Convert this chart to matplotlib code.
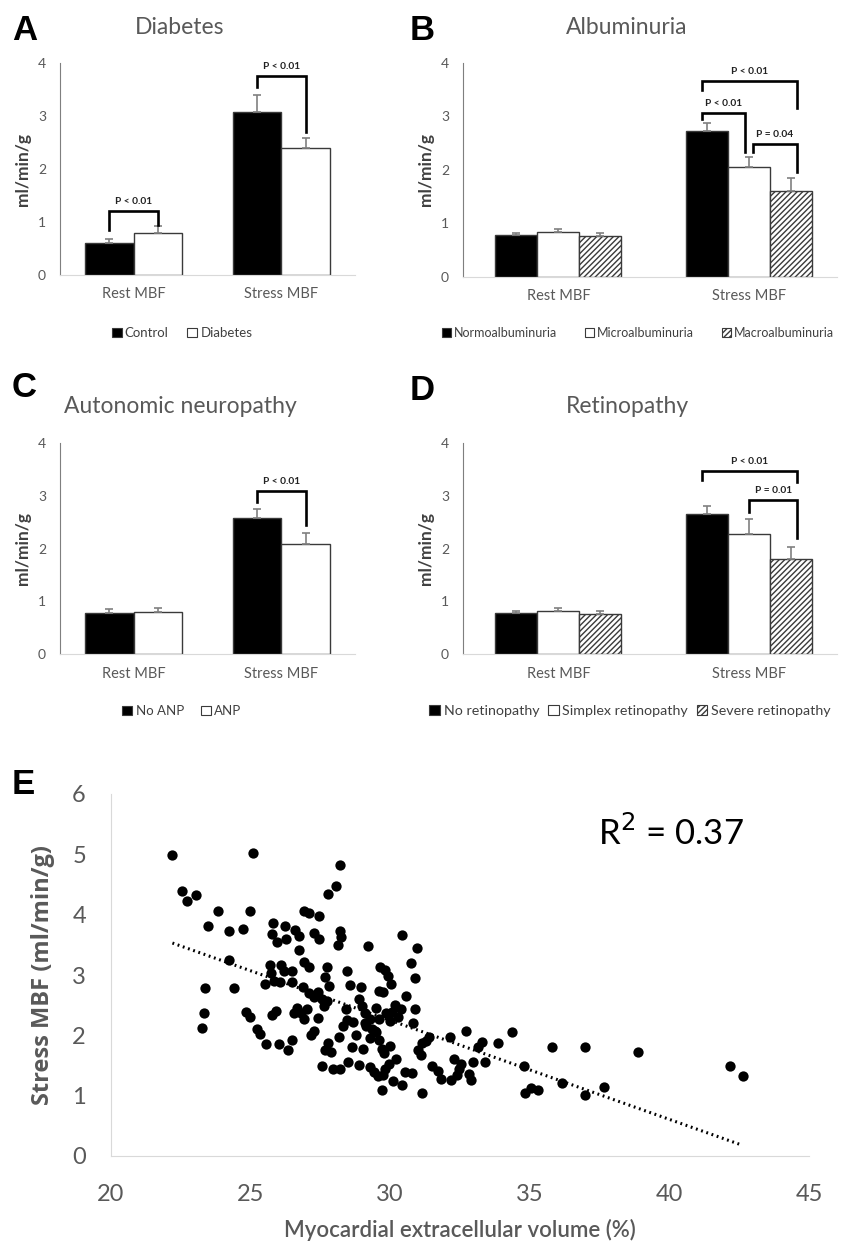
import matplotlib
matplotlib.use("Agg")
import matplotlib.pyplot as plt
from matplotlib.patches import Patch

plt.rcParams['font.family'] = ['Lato', 'DejaVu Sans']
plt.rcParams['hatch.linewidth'] = 1.0

W, H = 841, 1252

# ---------------- data ----------------
categories = ["Rest MBF", "Stress MBF"]

a_groups = ["Control", "Diabetes"]
a_vals = [[0.61, 3.08], [0.80, 2.40]]
a_err = [[0.06, 0.32], [0.12, 0.18]]

b_groups = ["Normoalbuminuria", "Microalbuminuria", "Macroalbuminuria"]
b_vals = [[0.78, 2.72], [0.84, 2.05], [0.76, 1.60]]
b_err = [[0.05, 0.15], [0.06, 0.20], [0.07, 0.25]]

c_groups = ["No ANP", "ANP"]
c_vals = [[0.78, 2.58], [0.80, 2.09]]
c_err = [[0.07, 0.16], [0.07, 0.20]]

d_groups = ["No retinopathy", "Simplex retinopathy", "Severe retinopathy"]
d_vals = [[0.78, 2.65], [0.82, 2.27], [0.76, 1.81]]
d_err = [[0.04, 0.15], [0.06, 0.29], [0.06, 0.22]]

ecv = [22.19, 25.07, 28.20, 28.05, 27.78, 22.54, 22.73, 23.06, 23.84, 24.99,
       26.92, 27.09, 27.44, 23.48, 24.23, 24.72, 25.80, 26.23, 25.75, 26.59,
       26.74, 27.28, 27.46, 25.94, 26.26, 28.20, 28.24, 28.13, 30.41, 29.20,
       30.97, 26.73, 24.23, 26.92, 27.09, 27.72, 25.69, 26.09, 30.76, 29.65,
       29.82, 29.93, 28.44, 25.73, 26.21, 26.50, 25.83, 26.07, 26.50, 25.50,
       30.90, 30.03, 28.55, 28.94, 27.67, 27.80, 26.88, 23.38, 24.40, 29.59,
       29.76, 27.09, 27.40, 30.55, 27.26, 27.55, 27.75, 27.63, 28.42, 29.00,
       29.48, 26.65, 27.02, 26.80, 26.55, 25.92, 25.77, 24.84, 24.99, 23.32,
       30.90, 30.38, 30.17, 30.07, 29.86, 29.61, 30.28, 30.01, 29.11, 29.27,
       29.09, 28.46, 28.65, 29.13, 30.82, 26.90, 27.42, 25.23, 25.32, 23.25,
       29.36, 29.47, 27.26, 27.17, 28.78, 28.15, 29.26, 29.61, 32.70, 34.35,
       32.14, 31.40, 31.30, 31.15, 33.28, 33.85, 33.13, 35.80, 36.99, 38.89,
       26.50, 25.54, 26.00, 26.34, 27.78, 27.68, 27.87, 28.62, 29.01, 29.70,
       29.99, 29.78, 30.99, 31.10, 27.55, 27.94, 28.20, 28.50, 28.89, 29.27,
       29.42, 29.96, 29.82, 29.57, 29.74, 30.53, 30.78, 31.49, 31.72, 32.30,
       32.55, 32.47, 32.97, 33.41, 32.82, 32.89, 32.16, 31.82, 32.41, 34.78,
       34.82, 35.05, 35.28, 36.14, 36.99, 37.64, 42.17, 42.64, 29.70, 30.11,
       30.41, 31.15, 29.50, 30.20, 28.90, 28.30]
stress_mbf = [4.99, 5.02, 4.83, 4.47, 4.35, 4.39, 4.22, 4.32, 4.06, 4.06,
              4.06, 4.03, 3.97, 3.81, 3.73, 3.77, 3.86, 3.81, 3.68, 3.75,
              3.64, 3.69, 3.59, 3.54, 3.59, 3.73, 3.63, 3.50, 3.67, 3.48,
              3.44, 3.42, 3.25, 3.22, 3.14, 3.14, 3.17, 3.17, 3.20, 3.14,
              3.08, 2.98, 3.07, 3.03, 3.06, 3.06, 2.90, 2.88, 2.88, 2.85,
              2.95, 2.85, 2.84, 2.80, 2.96, 2.82, 2.80, 2.78, 2.78, 2.74,
              2.72, 2.70, 2.72, 2.66, 2.64, 2.60, 2.57, 2.48, 2.43, 2.48,
              2.45, 2.45, 2.43, 2.37, 2.37, 2.40, 2.33, 2.39, 2.31, 2.37,
              2.43, 2.43, 2.50, 2.39, 2.37, 2.27, 2.30, 2.23, 2.37, 2.27,
              2.20, 2.25, 2.22, 2.15, 2.21, 2.27, 2.28, 2.10, 2.03, 2.12,
              2.10, 2.07, 2.07, 2.01, 2.00, 1.97, 1.96, 1.93, 2.08, 2.05,
              1.97, 1.97, 1.90, 1.87, 1.89, 1.87, 1.80, 1.81, 1.81, 1.73,
              1.92, 1.85, 1.85, 1.75, 1.87, 1.75, 1.73, 1.80, 1.77, 1.78,
              1.83, 1.71, 1.75, 1.68, 1.50, 1.45, 1.45, 1.56, 1.51, 1.48,
              1.40, 1.53, 1.45, 1.32, 1.34, 1.40, 1.38, 1.50, 1.41, 1.60,
              1.53, 1.45, 1.55, 1.55, 1.36, 1.26, 1.26, 1.28, 1.34, 1.50,
              1.05, 1.13, 1.10, 1.21, 1.01, 1.14, 1.50, 1.32, 1.10, 1.24,
              1.18, 1.05, 2.05, 1.60, 2.60, 2.15]
trend_x = [22.2, 42.6]
trend_y = [3.53, 0.18]
r2_text = "R$^2$ = 0.37"

# ---------------- helpers ----------------
def rect(l, t, r, b):
    return [l / W, 1 - b / H, (r - l) / W, (b - t) / H]

GRAY_TXT = "#595959"
fig = plt.figure(figsize=(W / 100, H / 100), dpi=100)


def letter(x, y, s):
    fig.text(x / W, 1 - y / H, s, ha="left", va="center", fontsize=25,
             fontweight="bold", color="black", family=["Liberation Sans"])


def bar_panel(pos, groups, vals, errs, styles, brackets, title, title_xy,
              let, letter_xy, legend_xy, legend_cols, xlim_r, leg_fs,
              colsp):
    ax = fig.add_axes(rect(*pos))
    n = len(groups)
    width = 0.66 / n
    x0 = list(range(len(categories)))
    for i in range(n):
        off = (i - (n - 1) / 2) * width
        xs = [x + off for x in x0]
        fc, hatch = styles[i]
        ax.bar(xs, vals[i], width=width, color=fc, edgecolor="#3a3a3a",
               linewidth=1.0, hatch=hatch, zorder=2)
        ax.errorbar(xs, vals[i], yerr=[[0] * len(xs), errs[i]], fmt="none",
                    ecolor="#808080", elinewidth=1.2, capsize=3, capthick=1.2,
                    zorder=3)
    for (x1, x2, yt, yl, yr, txt) in brackets:
        ax.plot([x1, x1, x2, x2], [yl, yt, yt, yr], color="black", lw=1.9,
                solid_joinstyle="miter", zorder=4)
        ax.text((x1 + x2) / 2, yt + 0.1, txt, ha="center", va="bottom",
                fontsize=7.3, fontweight="bold", color="#222222")
    ax.set_xlim(-0.5, xlim_r)
    ax.set_ylim(0, 4)
    ax.set_yticks([0, 1, 2, 3, 4])
    ax.set_xticks(x0)
    ax.set_xticklabels(categories)
    ax.tick_params(axis="y", length=0, labelsize=10, colors=GRAY_TXT, pad=10)
    ax.tick_params(axis="x", length=0, labelsize=10.5, colors=GRAY_TXT,
                   pad=9)
    for s in ["top", "right"]:
        ax.spines[s].set_visible(False)
    ax.spines["left"].set_color("#7f7f7f")
    ax.spines["bottom"].set_color("#d9d9d9")
    ax.set_ylabel("ml/min/g", fontsize=12.5, fontweight="bold",
                  color="#404040")
    ax.yaxis.set_label_coords(-29 / (pos[2] - pos[0]), 0.5)
    fig.text(title_xy[0] / W, 1 - title_xy[1] / H, title, ha="center",
             va="center", fontsize=16.5, color="#595959")
    letter(letter_xy[0], letter_xy[1], let)
    handles = [Patch(facecolor=styles[i][0], edgecolor="#3a3a3a",
                     hatch=styles[i][1], linewidth=0.8) for i in range(n)]
    fig.legend(handles, groups, loc="center",
               bbox_to_anchor=(legend_xy[0] / W, 1 - legend_xy[1] / H),
               ncol=legend_cols, frameon=False, fontsize=leg_fs,
               handlelength=0.75, handleheight=0.75, handletextpad=0.25,
               columnspacing=colsp, labelcolor="#404040")
    return ax


two_styles = [("black", None), ("white", None)]
three_styles = [("black", None), ("white", None), ("white", "//////")]

bar_panel((60, 63, 355, 275), a_groups, a_vals, a_err, two_styles,
          [(-0.165, 0.165, 1.21, 0.85, 0.95, "P < 0.01"),
           (0.835, 1.165, 3.75, 3.55, 2.70, "P < 0.01")],
          "Diabetes", (180, 27), "A", (12, 31), (182, 333), 2, 1.5, 9.5, 1.4)

bar_panel((463, 63, 837, 277), b_groups, b_vals, b_err, three_styles,
          [(0.75, 1.25, 3.66, 3.50, 3.15, "P < 0.01"),
           (0.75, 0.98, 3.06, 2.96, 2.34, "P < 0.01"),
           (1.02, 1.25, 2.48, 2.34, 1.97, "P = 0.04")],
          "Albuminuria", (627, 27), "B", (410, 31), (638, 333), 3, 1.46, 9,
          2.2)

bar_panel((60, 443, 355, 654), c_groups, c_vals, c_err, two_styles,
          [(0.835, 1.165, 3.09, 2.89, 2.45, "P < 0.01")],
          "Autonomic neuropathy", (180, 407), "C", (12, 388), (182, 711), 2,
          1.5, 9.5, 1.3)

bar_panel((463, 443, 837, 654), d_groups, d_vals, d_err, three_styles,
          [(0.75, 1.25, 3.46, 3.30, 3.27, "P < 0.01"),
           (1.0, 1.25, 2.92, 2.70, 2.20, "P = 0.01")],
          "Retinopathy", (627, 407), "D", (410, 390), (630, 711), 3, 1.46,
          10.3, 0.6)

# ---------------- scatter panel E ----------------
ax = fig.add_axes(rect(111, 794, 809, 1156))
ax.scatter(ecv, stress_mbf, s=55, color="black", zorder=3, linewidths=0)
ax.plot(trend_x, trend_y, color="black", lw=2.2, linestyle=(0, (0.6, 1.2)),
        zorder=2)
ax.set_xlim(20, 45)
ax.set_ylim(0, 6)
ax.set_xticks([20, 25, 30, 35, 40, 45])
ax.set_yticks([0, 1, 2, 3, 4, 5, 6])
ax.tick_params(axis="both", length=0, labelsize=17, colors=GRAY_TXT)
ax.tick_params(axis="x", pad=20)
ax.tick_params(axis="y", pad=18)
for s in ["top", "right"]:
    ax.spines[s].set_visible(False)
ax.spines["left"].set_color("#d9d9d9")
ax.spines["bottom"].set_color("#d9d9d9")
ax.set_xlabel("Myocardial extracellular volume (%)", fontsize=16,
              fontweight="semibold", color=GRAY_TXT, labelpad=10)
ax.set_ylabel("Stress MBF (ml/min/g)", fontsize=17, fontweight="bold",
              color=GRAY_TXT, family=["Open Sans", "DejaVu Sans"])
ax.yaxis.set_label_coords(-(111 - 55) / (809 - 111), 0.5)
ax.text(37.45, 5.35, r2_text, fontsize=25, color="black", ha="left",
        va="center")
letter(12, 785, "E")

fig.savefig("out.png", dpi=100)
